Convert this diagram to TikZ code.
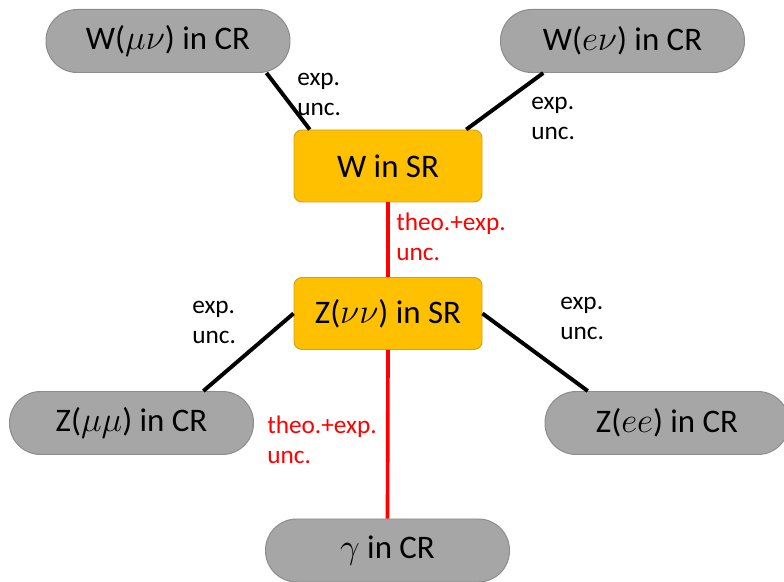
\documentclass[tikz,border=0pt]{standalone}
\usepackage{fontspec}
\setmainfont{Carlito}
\usetikzlibrary{calc}
\definecolor{crgray}{HTML}{A6A6A6}
\definecolor{crline}{HTML}{8C8C8C}
\definecolor{srgold}{HTML}{FFC000}
\definecolor{srline}{HTML}{D4A017}
\tikzset{
	crbox/.style={draw=crline, fill=crgray, line width=0.7pt, rounded corners=0.78cm, minimum width=6.1cm, minimum height=1.575cm, inner sep=0pt, font=\fontsize{23.4}{28}\selectfont},
	srbox/.style={draw=srline, fill=srgold, line width=0.7pt, rounded corners=0.2cm, minimum width=4.7cm, minimum height=1.8cm, inner sep=0pt, font=\fontsize{23.4}{28}\selectfont},
	uncline/.style={line width=2.8pt, color=black},
	theoline/.style={line width=2.6pt, color=red},
	unclabel/.style={anchor=west, inner sep=0pt, align=left, font=\fontsize{18}{21.3}\selectfont},
	theolabel/.style={unclabel, text=red}
}

\begin{document}
\begin{tikzpicture}
			%%%%% START %%%%%
			
			\useasboundingbox (0, 0) rectangle (19.6, 14.55);
			
			\node[crbox] (wmu) at (4.2, 13.525) {W($\mu\nu$) in CR};
			\node[crbox] (wen) at (15.5625, 13.525) {W($e\nu$) in CR};
			
			\node[srbox] (wsr) at (9.7, 10.4) {W in SR};
			\node[srbox] (zsr) at (9.7, 6.7125) {Z($\nu\nu$) in SR};
			
			\node[crbox] (zmu) at (3.2875, 3.975) {Z($\mu\mu$) in CR};
			\node[crbox] (zee) at (16.675, 3.975) {Z($ee$) in CR};
			\node[crbox] (gam) at (9.6875, 0.7875) {$\gamma$ in CR};
			
			\draw[uncline] (wmu.-18) -- (wsr.155);
			\draw[uncline] (wen.-158) -- (wsr.25);
			\draw[theoline] (wsr.south) -- (zsr.north);
			
			\draw[uncline] (zsr.west) -- (zmu.24);
			\draw[uncline] (zsr.east) -- (zee.158);
			\draw[theoline] (zsr.south) -- (gam.north);
			
			\node[unclabel] (lwmu) at (7.425, 12.2) {exp.\\unc.};
			\node[unclabel] (lwen) at (13.275, 11.6) {exp.\\unc.};
			\node[theolabel] (lwz) at (9.9, 8.625) {theo.+exp.\\unc.};
			\node[unclabel] (lzmu) at (4.8, 6.5) {exp.\\unc.};
			\node[unclabel] (lzee) at (14.0, 6.6) {exp.\\unc.};
			\node[theolabel] (lgam) at (6.675, 3.55) {theo.+exp.\\unc.};
			
			%%%%% END %%%%%
\end{tikzpicture}
\end{document}
